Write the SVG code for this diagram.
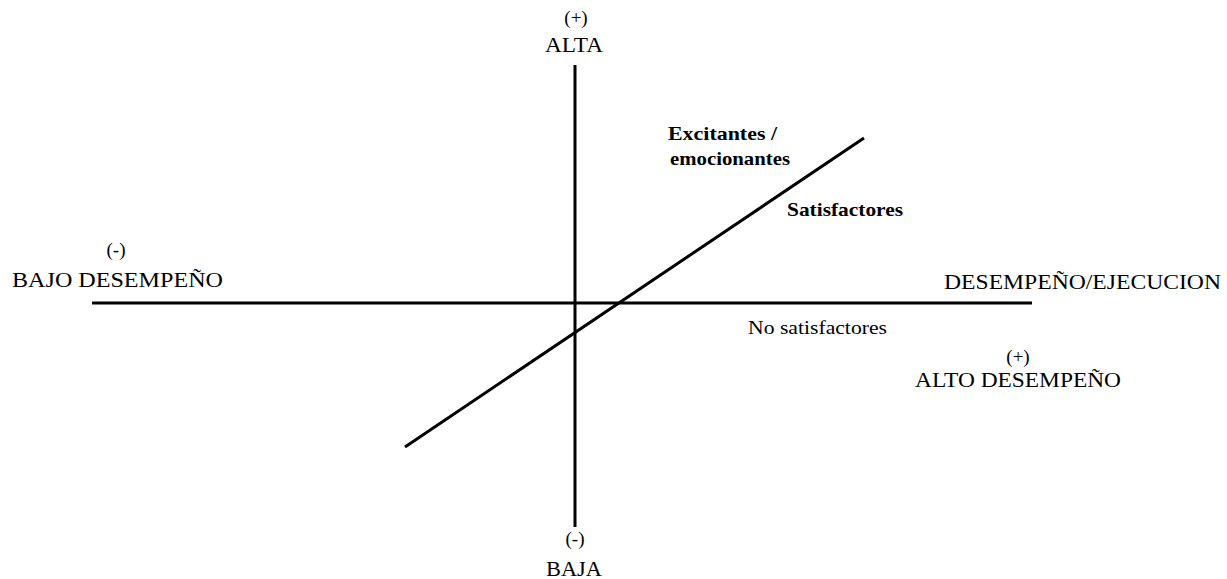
<svg xmlns="http://www.w3.org/2000/svg" width="1227" height="579" viewBox="0 0 1227 579">
<style>
.t{font-family:"Liberation Serif","Times New Roman",serif;font-size:22px;fill:#000}
.p{font-family:"Liberation Serif","Times New Roman",serif;font-size:19px;fill:#000}
.s{font-family:"Liberation Serif","Times New Roman",serif;font-size:19px;fill:#000}
.b{font-family:"Liberation Serif","Times New Roman",serif;font-size:19px;font-weight:bold;fill:#000}
.ax{stroke:#000;stroke-width:3;fill:none}
</style>
<rect width="1227" height="579" fill="#fff"/>
<g id="connectors">
<line class="ax" x1="92" y1="303" x2="1032" y2="303"/>
<line class="ax" x1="575" y1="65" x2="575" y2="527"/>
<line class="ax" x1="405" y1="447" x2="864" y2="138" stroke-width="2.5"/>
</g>
<g id="top-label">
<text class="p" x="576" y="24" text-anchor="middle">(+)</text>
<text class="t" x="545" y="52" textLength="58" lengthAdjust="spacingAndGlyphs">ALTA</text>
</g>
<g id="bottom-label">
<text class="p" x="575" y="545" text-anchor="middle">(-)</text>
<text class="t" x="546" y="576" textLength="56" lengthAdjust="spacingAndGlyphs">BAJA</text>
</g>
<g id="left-label">
<text class="p" x="116" y="256" text-anchor="middle">(-)</text>
<text class="t" x="12" y="287" textLength="211" lengthAdjust="spacingAndGlyphs">BAJO DESEMPEÑO</text>
</g>
<g id="right-label">
<text class="t" x="944" y="289" textLength="277" lengthAdjust="spacingAndGlyphs">DESEMPEÑO/EJECUCION</text>
</g>
<g id="bottom-right-label">
<text class="p" x="1018" y="363" text-anchor="middle">(+)</text>
<text class="t" x="915" y="387" textLength="206" lengthAdjust="spacingAndGlyphs">ALTO DESEMPEÑO</text>
</g>
<g id="excitantes">
<text class="b" x="668" y="140" textLength="109" lengthAdjust="spacingAndGlyphs">Excitantes /</text>
<text class="b" x="670" y="165" textLength="120" lengthAdjust="spacingAndGlyphs">emocionantes</text>
</g>
<g id="satisfactores">
<text class="b" x="787" y="216" textLength="116" lengthAdjust="spacingAndGlyphs">Satisfactores</text>
</g>
<g id="no-satisfactores">
<text class="s" x="748" y="334" textLength="139" lengthAdjust="spacingAndGlyphs">No satisfactores</text>
</g>
</svg>
